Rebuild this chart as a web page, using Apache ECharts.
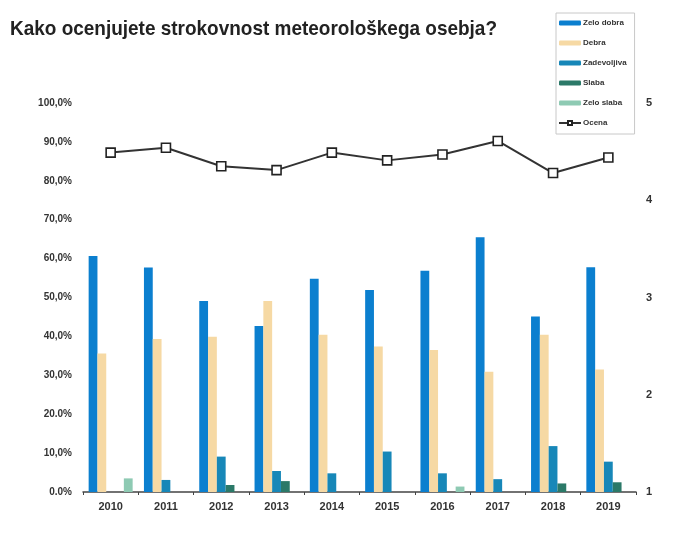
<!DOCTYPE html>
<html>
<head>
<meta charset="utf-8">
<script src="https://cdn.jsdelivr.net/npm/echarts@6/dist/echarts.min.js"></script>
<style>html,body{margin:0;padding:0;background:#fff}#c{width:679px;height:542px}</style>
</head>
<body>
<div id="c"></div>
<script>
var years = ['2010','2011','2012','2013','2014','2015','2016','2017','2018','2019'];
var zeloDobra   = [60.7, 57.7, 49.1, 42.7, 54.8, 51.9, 56.9, 65.5, 45.1, 57.8];
var dobra       = [35.6, 39.3, 39.9, 49.1, 40.4, 37.4, 36.5, 30.9, 40.4, 31.5];
var zadovoljiva = [0, 3.1, 9.1, 5.4, 4.8, 10.4, 4.8, 3.3, 11.8, 7.8];
var slaba       = [0, 0, 1.8, 2.8, 0, 0, 0, 0, 2.2, 2.5];
var zeloSlaba   = [3.5, 0, 0, 0, 0, 0, 1.4, 0, 0, 0];
var ocena       = [4.49, 4.54, 4.35, 4.31, 4.49, 4.41, 4.47, 4.61, 4.28, 4.44];
var leftTickLabels = {0:'0.0%',10:'10,0%',20:'20.0%',30:'30,0%',40:'40,0%',50:'50,0%',60:'60,0%',70:'70,0%',80:'80,0%',90:'90,0%',100:'100,0%'};
var seriesNames = ['Zelo dobra','Debra','Zadevoljiva','Slaba','Zelo slaba','Ocena'];
var titleText = 'Kako ocenjujete strokovnost meteorološkega osebja?';
var colors = ['#0b7fcf','#f6d9a4','#1787b8','#2b7968','#8ecab3','#333333'];

// horizontal condensing of the title to mimic the narrow font of the reference
var titleFont = 'bold 21px "Liberation Sans", Arial, sans-serif';
var mctx = document.createElement('canvas').getContext('2d');
mctx.font = titleFont;
var titleScale = 487 / mctx.measureText(titleText).width;

var chart = echarts.init(document.getElementById('c'));
var barData = [zeloDobra, dobra, zadovoljiva, slaba, zeloSlaba];
var series = barData.map(function(d,i){
  return {name: seriesNames[i], type:'bar', data:d, barWidth:8.8, barGap:'0%',
    itemStyle:{color:colors[i]}, yAxisIndex:0};
});
series.push({name:'Ocena', type:'line', yAxisIndex:1, data:ocena,
  symbol:'rect', symbolSize:9, showAllSymbol:true,
  lineStyle:{color:'#333', width:2}, itemStyle:{color:'#fff', borderColor:'#222', borderWidth:1.6}});

chart.setOption({
  animation:false,
  color: colors,
  graphic:[{type:'text', left:10, top:19, scaleX:titleScale, originX:0,
    style:{text:titleText, font:titleFont, fill:'#222'}}],
  legend:{orient:'vertical', left:556, top:13, itemWidth:22, itemHeight:5, itemGap:10,
    backgroundColor:'#fff', borderColor:'#c8c8c8', borderWidth:1, padding:[5,8,6,2],
    data:seriesNames,
    textStyle:{fontSize:8, fontWeight:'bold', color:'#333', fontFamily:'Liberation Sans, sans-serif', lineHeight:10, padding:[0,0,0,-3]}},
  grid:{left:83, right:43, top:103, bottom:50},
  xAxis:{type:'category', data:years,
    axisLine:{lineStyle:{color:'#444', width:1.5}},
    axisTick:{show:true, length:3, lineStyle:{color:'#444'}},
    axisLabel:{fontSize:11, fontWeight:'bold', color:'#333', margin:9, fontFamily:'Liberation Sans, sans-serif'}},
  yAxis:[
    {type:'value', min:0, max:100, interval:10, splitLine:{show:false},
      axisLine:{show:false}, axisTick:{show:false},
      axisLabel:{fontSize:10, fontWeight:'bold', color:'#333', margin:11, fontFamily:'Liberation Sans, sans-serif',
        formatter:function(v){return leftTickLabels[v];}}},
    {type:'value', min:1, max:5, interval:1, splitLine:{show:false},
      axisLine:{show:false}, axisTick:{show:false},
      axisLabel:{fontSize:11, fontWeight:'bold', color:'#333', margin:10, fontFamily:'Liberation Sans, sans-serif'}}
  ],
  series: series
});
</script>
</body>
</html>
